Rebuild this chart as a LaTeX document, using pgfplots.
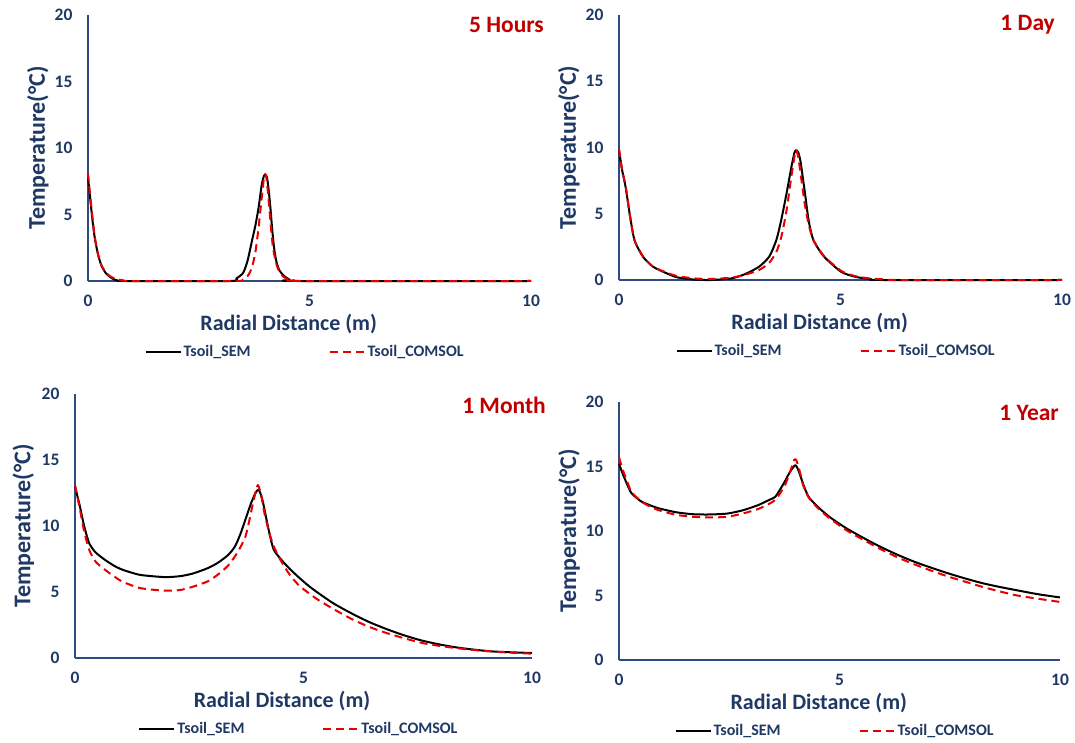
\documentclass[border=0pt]{standalone}
\usepackage{fontspec}
\setmainfont{Carlito}
\usepackage{pgfplots}
\pgfplotsset{compat=1.18}
\definecolor{navy}{RGB}{31,56,100}
\definecolor{axisblue}{RGB}{47,74,125}
\definecolor{tred}{RGB}{192,0,0}
\definecolor{lred}{RGB}{232,0,0}
\pgfplotsset{
  myax/.style={
    scale only axis,
    anchor=south west,
    axis x line=bottom, axis y line=left,
    axis line style={-, draw=axisblue, line width=2pt},
    xmin=0, xmax=10, ymin=0, ymax=20,
    xtick={0,5,10}, ytick={0,5,10,15,20},
    major tick length=0pt,
    /pgf/number format/assume math mode=true,
    tick label style={font=\fontsize{17.5}{17.5}\selectfont\bfseries, text=navy},
    yticklabel style={xshift=-12pt},
    xticklabel style={yshift=-13pt, inner sep=1pt},
    xlabel={Radial Distance (m)},
    ylabel={Temperature(°C)},
    xlabel style={font=\fontsize{22}{22}\selectfont\bfseries, text=navy, at={(axis description cs:0.453,0)}, anchor=center, yshift=-43pt, inner sep=1pt},
    ylabel style={font=\fontsize{24}{24}\selectfont\bfseries, text=navy, at={(axis description cs:-0.113,0.5)}, anchor=center},
    clip=false,
    legend style={at={(axis description cs:0.49,0)}, anchor=center, yshift=-71pt, draw=none, fill=none,
      font=\fontsize{16}{16}\selectfont\bfseries, text=navy, legend columns=2,
      /tikz/every even column/.append style={column sep=76pt}, inner sep=0pt},
    legend cell align=left,
    legend image code/.code={\draw[##1] (0pt,0pt) -- (35pt,0pt);},
  },
  sem/.style={black, line width=2pt, line join=round, smooth, tension=0.4},
  com/.style={lred, line width=2pt, dash pattern=on 8pt off 5pt, line join=round, smooth, tension=0.4},
}
\begin{document}
\begin{tikzpicture}[x=1pt,y=1pt]
\path[use as bounding box] (0,0) rectangle (1075,742);

% ---------- 5 Hours ----------
\begin{axis}[myax, at={(88pt,461pt)}, width=443pt, height=266pt]
\addplot[sem] coordinates {(0,7.8) (0.05,6.2) (0.1,4.6) (0.15,3.3) (0.2,2.4) (0.25,1.7) (0.3,1.2) (0.35,0.85) (0.4,0.6) (0.5,0.3) (0.6,0.1) (0.7,0.02) (0.8,0) (3.2,0) (3.35,0.2) (3.5,0.6) (3.6,1.5) (3.7,3.0) (3.78,4.2) (3.85,5.5) (3.92,7.2) (3.97,7.9) (4.0,8.0) (4.04,7.8) (4.08,6.8) (4.12,5.4) (4.16,3.8) (4.2,2.5) (4.25,1.5) (4.32,0.8) (4.42,0.4) (4.55,0.1) (4.7,0) (10,0)};
\addlegendentry{Tsoil\_SEM}
\addplot[com] coordinates {(0,8.1) (0.05,6.4) (0.1,4.8) (0.15,3.4) (0.2,2.4) (0.25,1.7) (0.3,1.2) (0.35,0.9) (0.4,0.65) (0.5,0.35) (0.6,0.2) (0.7,0.1) (0.8,0.05) (1.0,0) (3.3,0) (3.5,0.1) (3.6,0.35) (3.7,1.0) (3.78,2.2) (3.85,4.0) (3.92,6.2) (3.97,7.7) (4.0,8.05) (4.03,7.7) (4.08,6.0) (4.13,4.0) (4.18,2.4) (4.25,1.3) (4.32,0.7) (4.4,0.35) (4.5,0.15) (4.65,0.05) (4.8,0) (10,0)};
\addlegendentry{Tsoil\_COMSOL}
\end{axis}

% ---------- 1 Day ----------
\begin{axis}[myax, at={(619pt,462pt)}, width=443pt, height=265pt]
\addplot[sem] coordinates {(0,9.8) (0.07,8.3) (0.15,7.0) (0.25,4.8) (0.35,3.0) (0.54,1.76) (0.77,1.0) (1.08,0.5) (1.31,0.2) (1.7,0.03) (2.08,0) (2.54,0.12) (2.85,0.45) (3.16,1.0) (3.39,1.76) (3.55,3.0) (3.66,4.5) (3.78,6.5) (3.89,8.5) (3.96,9.6) (4.0,9.8) (4.05,9.6) (4.1,8.9) (4.15,7.7) (4.2,6.5) (4.28,4.5) (4.39,3.0) (4.63,1.76) (5.01,0.63) (5.32,0.25) (5.7,0.05) (5.94,0) (10,0)};
\addlegendentry{Tsoil\_SEM}
\addplot[com] coordinates {(0,9.9) (0.07,8.3) (0.15,7.1) (0.25,4.8) (0.35,3.0) (0.54,1.8) (0.77,1.0) (1.08,0.55) (1.31,0.3) (1.7,0.12) (2.08,0.08) (2.54,0.18) (2.85,0.4) (3.16,0.75) (3.39,1.3) (3.55,2.1) (3.66,3.2) (3.78,5.2) (3.89,7.8) (3.97,9.5) (4.0,9.8) (4.05,9.2) (4.12,7.5) (4.2,5.6) (4.28,4.2) (4.39,3.0) (4.63,1.8) (5.01,0.7) (5.32,0.3) (5.7,0.1) (6.0,0.05) (6.3,0) (10,0)};
\addlegendentry{Tsoil\_COMSOL}
\end{axis}

% ---------- 1 Month ----------
\begin{axis}[myax, at={(75pt,84pt)}, width=457pt, height=264pt]
\addplot[sem] coordinates {(0,13.0) (0.1,11.6) (0.2,10.0) (0.31,8.7) (0.45,8.0) (0.65,7.45) (0.85,7.0) (1.03,6.7) (1.42,6.3) (1.96,6.13) (2.3,6.2) (2.58,6.4) (2.9,6.8) (3.12,7.2) (3.35,7.8) (3.5,8.45) (3.62,9.4) (3.73,10.5) (3.85,11.7) (3.95,12.5) (4.02,12.75) (4.1,12.0) (4.19,10.5) (4.27,9.2) (4.35,8.2) (4.5,7.5) (4.7,6.75) (4.9,6.1) (5.1,5.5) (5.3,4.98) (5.65,4.15) (6.04,3.4) (6.42,2.75) (6.81,2.2) (7.2,1.72) (7.58,1.33) (7.97,1.03) (8.35,0.8) (8.74,0.63) (9.12,0.5) (9.56,0.43) (10,0.38)};
\addlegendentry{Tsoil\_SEM}
\addplot[com] coordinates {(0,13.1) (0.1,11.4) (0.2,9.6) (0.31,8.2) (0.45,7.3) (0.65,6.7) (0.85,6.2) (1.03,5.8) (1.42,5.3) (1.96,5.1) (2.3,5.15) (2.58,5.4) (2.9,5.8) (3.12,6.3) (3.35,7.0) (3.5,7.7) (3.62,8.4) (3.73,9.2) (3.82,10.5) (3.9,11.8) (4.0,13.1) (4.08,12.2) (4.15,10.9) (4.25,9.5) (4.35,8.45) (4.5,7.4) (4.7,6.3) (4.9,5.5) (5.1,4.95) (5.3,4.45) (5.65,3.72) (6.04,2.98) (6.42,2.38) (6.81,1.9) (7.2,1.5) (7.58,1.15) (7.97,0.92) (8.35,0.75) (8.74,0.6) (9.12,0.5) (9.56,0.4) (10,0.33)};
\addlegendentry{Tsoil\_COMSOL}
\end{axis}

% ---------- 1 Year ----------
\begin{axis}[myax, at={(619pt,82pt)}, width=441pt, height=258pt]
\addplot[sem] coordinates {(0,15.2) (0.1,14.3) (0.2,13.5) (0.29,12.9) (0.5,12.3) (0.7,12.0) (0.91,11.75) (1.3,11.45) (1.68,11.3) (2.05,11.28) (2.45,11.35) (2.8,11.6) (3.15,12.0) (3.4,12.4) (3.54,12.64) (3.65,13.2) (3.77,13.9) (3.88,14.6) (4.0,15.1) (4.08,14.6) (4.18,13.6) (4.3,12.64) (4.5,11.9) (4.77,11.1) (5.16,10.2) (5.55,9.45) (5.93,8.77) (6.32,8.15) (6.71,7.6) (7.1,7.13) (7.48,6.7) (7.87,6.3) (8.26,5.94) (8.65,5.65) (9.03,5.4) (9.5,5.1) (10,4.85)};
\addlegendentry{Tsoil\_SEM}
\addplot[com] coordinates {(0,15.7) (0.1,14.6) (0.2,13.7) (0.29,13.0) (0.5,12.3) (0.7,11.9) (0.91,11.6) (1.3,11.25) (1.68,11.1) (2.05,11.05) (2.45,11.1) (2.8,11.35) (3.15,11.7) (3.4,12.1) (3.54,12.4) (3.65,12.9) (3.77,13.6) (3.88,14.6) (3.97,15.5) (4.02,15.5) (4.1,14.6) (4.18,13.5) (4.3,12.6) (4.5,11.8) (4.77,11.0) (5.16,10.05) (5.55,9.3) (5.93,8.6) (6.32,7.95) (6.71,7.4) (7.1,6.9) (7.48,6.45) (7.87,6.05) (8.26,5.65) (8.65,5.3) (9.03,5.0) (9.5,4.75) (10,4.5)};
\addlegendentry{Tsoil\_COMSOL}
\end{axis}

% ---------- panel titles ----------
\begin{scope}[every node/.style={font=\fontsize{23.5}{23.5}\selectfont\bfseries, text=tred, anchor=east, inner sep=0pt}]
\node at (544,717) {5 Hours};
\node at (1055,717) {1 Day};
\node at (546,337) {1 Month};
\node at (1059,329) {1 Year};
\end{scope}
\end{tikzpicture}
\end{document}
